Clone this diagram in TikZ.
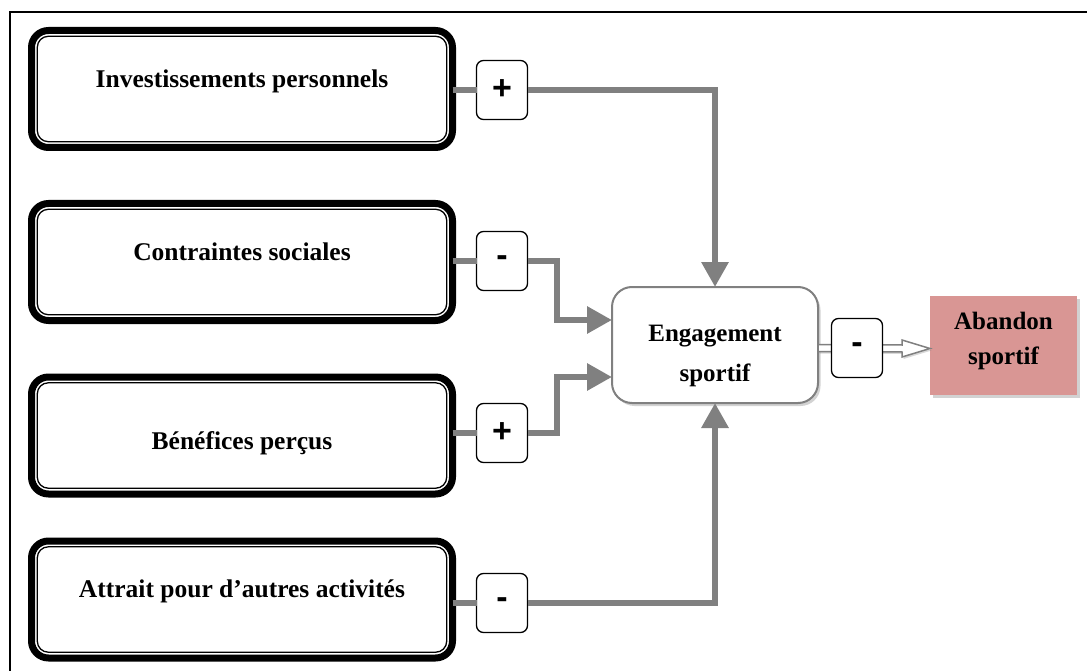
\documentclass[tikz,border=0pt]{standalone}
\usepackage{fontspec}
\setmainfont{Liberation Serif}
\newfontfamily\signfont{Liberation Sans}
\usetikzlibrary{arrows.meta,calc,shadows}
\definecolor{linkgray}{RGB}{128,128,128}
\definecolor{abandonfill}{RGB}{217,150,148}
% one line of text whose baseline sits #1 above the node centre
\newcommand{\oneline}[2]{\raisebox{#1}[0pt][0pt]{#2}}
% two centred lines, first baseline #1 above the node centre
\newcommand{\twolines}[3]{\raisebox{#1}[0pt][0pt]{\begin{tabular}[t]{@{}c@{}}#2\\#3\end{tabular}}}
\tikzset{
  factor/.style={draw=black, line width=7pt, rounded corners=17pt, fill=white,
    minimum width=421pt, minimum height=117pt, inner sep=0pt, outer sep=0pt,
    font=\fontsize{25.5}{28}\selectfont\bfseries},
  innerline/.style={draw=black, line width=1.3pt, rounded corners=11pt},
  signbox/.style={draw=black, line width=1.3pt, rounded corners=7pt, fill=white,
    minimum width=51pt, minimum height=59pt, inner sep=0pt, outer sep=0pt,
    font=\signfont\fontsize{34}{34}\selectfont\bfseries},
  conn/.style={draw=linkgray, line width=6pt},
  connarrow/.style={conn, -{Triangle[length=25pt, width=26pt]}},
  central/.style={draw=linkgray, line width=2pt, rounded corners=20pt, fill=white,
    minimum width=206pt, minimum height=116pt, inner sep=0pt, outer sep=0pt,
    font=\fontsize{25}{40}\selectfont\bfseries,
    drop shadow={shadow xshift=2.5pt, shadow yshift=-3pt, opacity=0.35}},
  outcome/.style={fill=abandonfill, minimum width=147pt, minimum height=99pt,
    inner sep=0pt, outer sep=0pt,
    font=\fontsize{25}{35}\selectfont\bfseries,
    drop shadow={shadow xshift=2.5pt, shadow yshift=-3pt, opacity=0.35}},
  hollow/.style={draw=linkgray, line width=1.5pt, fill=white, line join=miter,
    drop shadow={shadow xshift=1.5pt, shadow yshift=-2pt, opacity=0.3}}
}
\begin{document}
\begin{tikzpicture}[x=1pt, y=-1pt]
  \useasboundingbox[fill=white] (0,0) rectangle (1087,671);
  % outer frame (top and left edges)
  \draw[line width=1.5pt] (10,671) -- (10,12) -- (1087,12);

  % factor boxes
  \node[factor] (f1) at (242,89)    {\oneline{1pt}{Investissements personnels}};
  \node[factor] (f2) at (242,262)   {\oneline{2pt}{Contraintes sociales}};
  \node[factor] (f3) at (242,435.5) {\oneline{-13.5pt}{Bénéfices perçus}};
  \node[factor] (f4) at (242,599.5) {\oneline{2.5pt}{Attrait pour d’autres activités}};
  \foreach \f in {f1,f2,f3,f4}{
    \draw[innerline] ($(\f.north west)+(5.8pt,-5.8pt)$) rectangle ($(\f.south east)+(-5.8pt,5.8pt)$);
  }

  % central and outcome nodes
  \node[central] (eng) at (715,345) {\twolines{4pt}{Engagement}{sportif}};
  \node[outcome] (ab) at (1003.5,345.5) {\twolines{16pt}{Abandon}{sportif}};

  % hollow arrow towards the outcome
  \draw[hollow] ($(eng.east)+(0pt,0.5pt)$) -- ($(ab.west)+(-28pt,0.5pt)$)
    -- ($(ab.west)+(-28pt,5.5pt)$) -- ($(ab.west)+(0pt,-3pt)$) -- ($(ab.west)+(-28pt,-11.5pt)$)
    -- ($(ab.west)+(-28pt,-6.5pt)$) -- ($(eng.east)+(0pt,-6.5pt)$) -- cycle;

  % sign boxes
  \node[signbox] (s1) at (502,90)  {+};
  \node[signbox] (s2) at (502,261) {-};
  \node[signbox] (s3) at (502,433) {+};
  \node[signbox] (s4) at (502,603) {-};

  % helper coordinates for the elbow connectors
  \coordinate (bend) at (557,0);
  \coordinate (e2) at (612,320);
  \coordinate (e3) at (612,377);

  % connectors
  \draw[conn] (s1.west -| f1.east) -- (s1.west);
  \draw[conn] (s2.west -| f2.east) -- (s2.west);
  \draw[conn] (s3.west -| f3.east) -- (s3.west);
  \draw[conn] (s4.west -| f4.east) -- (s4.west);
  \draw[connarrow] (s1.east) -| (eng.north);
  \draw[connarrow] (s2.east) -- (s2.east -| bend) |- (e2);
  \draw[connarrow] (s3.east) -- (s3.east -| bend) |- (e3);
  \draw[connarrow] (s4.east) -| (eng.south);

  % sign box on the outcome arrow
  \node[signbox] (s5) at (857,348) {-};
\end{tikzpicture}
\end{document}
